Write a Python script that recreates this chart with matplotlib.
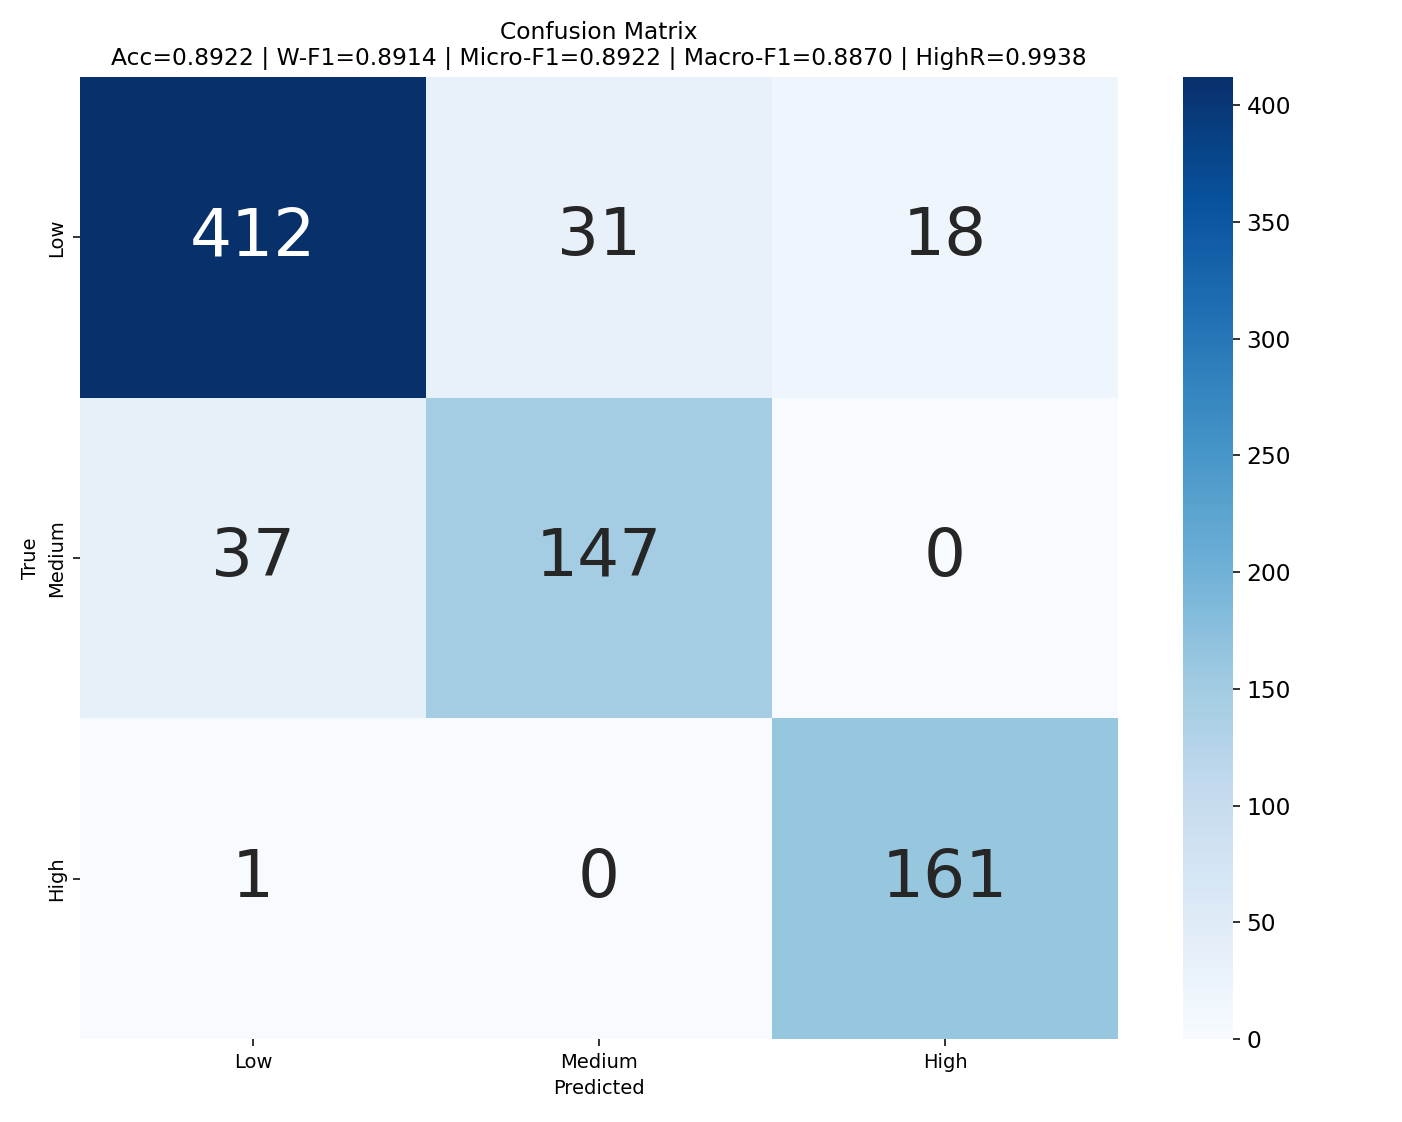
import matplotlib
matplotlib.use("Agg")
import matplotlib.pyplot as plt
import seaborn as sns
import numpy as np

# Data
labels = ["Low", "Medium", "High"]
cm = np.array([[412, 31, 18],
               [37, 147, 0],
               [1, 0, 161]])
title = "Confusion Matrix\nAcc=0.8922 | W-F1=0.8914 | Micro-F1=0.8922 | Macro-F1=0.8870 | HighR=0.9938"

fig = plt.figure(figsize=(1402 / 140, 1122 / 140), dpi=140)
ax = fig.add_axes([80 / 1402, 1 - 1039 / 1122, 1038 / 1402, 962 / 1122])
cax = fig.add_axes([1183 / 1402, 1 - 1039 / 1122, 50 / 1402, 962 / 1122])

sns.heatmap(cm, annot=True, fmt="d", cmap="Blues", ax=ax, cbar_ax=cax,
            xticklabels=labels, yticklabels=labels,
            annot_kws={"size": 34})
cax.tick_params(labelsize=12)
ax.tick_params(labelsize=10)
ax.set_xlabel("Predicted", fontsize=10)
ax.set_ylabel("True", fontsize=10)
ax.set_title(title, fontsize=12)

fig.savefig("out.png", dpi=140)
